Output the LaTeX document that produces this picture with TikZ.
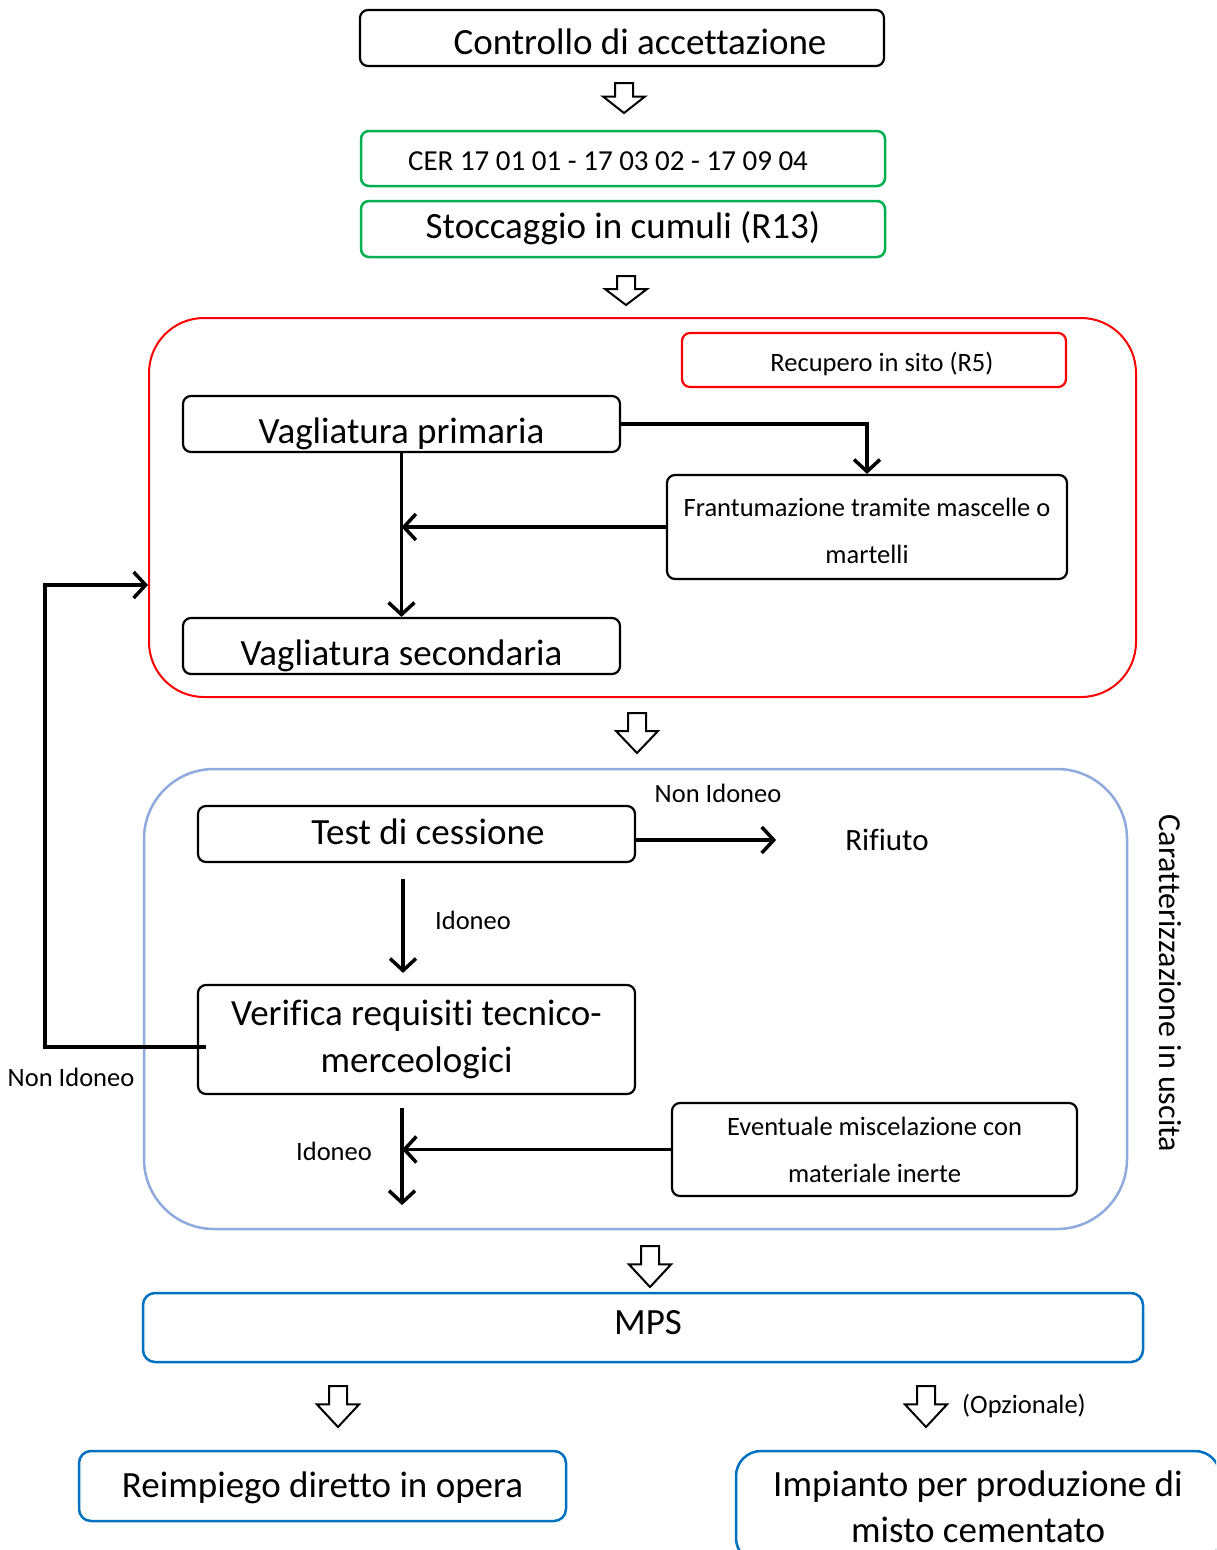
\documentclass[tikz,border=0pt]{standalone}
\usepackage{fontspec}
\setmainfont{Carlito}[Ligatures=CommonOff]
\usepackage{xcolor}
\usepackage{tikz}
\usetikzlibrary{positioning,calc,arrows.meta}

\definecolor{boxgreen}{RGB}{0,176,80}
\definecolor{boxred}{RGB}{255,0,0}
\definecolor{lightblue}{RGB}{143,170,220}
\definecolor{mpsblue}{RGB}{0,112,192}

\newcommand{\bigtxt}{\fontsize{37}{47}\selectfont}
\newcommand{\smalltxt}{\fontsize{26.5}{47}\selectfont}
% hollow block arrow: x, top, tip
\newcommand{\hollowarrow}[3]{%
  \draw[line width=2pt,fill=white] ({#1-9},#2) -- ({#1+9},#2) -- ({#1+9},{#3-0.55*(#3-#2)}) -- ({#1+21},{#3-0.55*(#3-#2)}) -- (#1,#3) -- ({#1-21},{#3-0.55*(#3-#2)}) -- ({#1-9},{#3-0.55*(#3-#2)}) -- cycle;}

\begin{document}
\begin{tikzpicture}[x=1pt,y=-1pt,
    box/.style={draw,rounded corners=8pt,line width=2.2pt,inner sep=0pt,align=center},
    big/.style={font=\bigtxt,text height=32pt,text depth=0pt},
    conn/.style={line width=3.5pt,-{Straight Barb[length=12pt,width=26pt]}},
    lbl/.style={font=\smalltxt,inner sep=0pt}]
    \useasboundingbox (0,0) rectangle (1216,1550);
    \clip (0,0) rectangle (1216,1550);

    % Ingresso
    \node[box,big,minimum width=524,minimum height=56] (ctrl) at (622,38) {\hspace*{36pt}Controllo di accettazione};
    \node[box,draw=boxgreen,line width=2.5pt,minimum width=524,minimum height=55,font=\fontsize{29}{35}\selectfont,text height=23pt,text depth=0pt] (cer) at (623,158.5) {CER 17 01 01 - 17 03 02 - 17 09 04\hspace*{30pt}};
    \node[box,big,draw=boxgreen,line width=2.5pt,minimum width=524,minimum height=56,text height=18pt] (sto) at (623,229) {Stoccaggio in cumuli (R13)};

    % Recupero in sito
    \node[draw=boxred,line width=2pt,rounded corners=55pt,minimum width=987,minimum height=379] (rec) at (642.5,507.5) {};
    \node[box,draw=boxred,minimum width=384,minimum height=54,font=\fontsize{26.5}{32}\selectfont,text height=23pt,text depth=0pt] (r5) at (874,360) {\hspace*{16pt}Recupero in sito (R5)};
    \node[box,big,minimum width=437,minimum height=56,text height=38pt] (vp) at (401.5,424) {Vagliatura primaria};
    \node[box,minimum width=400,minimum height=104,font=\smalltxt,text height=74pt] (fr) at (867,527) {Frantumazione tramite mascelle o\\martelli};
    \node[box,big,minimum width=437,minimum height=56,text height=38pt] (vs) at (401.5,646) {Vagliatura secondaria};

    \draw[conn] (vp.east) -| (fr.north);
    \draw[conn] (fr.west) -- (fr.west -| vp.south);
    \draw[conn] (vp.south) -- (vs.north);

    % Caratterizzazione in uscita
    \node[draw=lightblue,line width=2.5pt,rounded corners=70pt,minimum width=983,minimum height=460] (car) at (635.5,999) {};
    \node[font=\fontsize{32}{38}\selectfont,rotate=-90] (carlbl) at (1170,983.5) {Caratterizzazione in uscita};
    \node[box,big,minimum width=437,minimum height=56,text height=20pt] (test) at (416.5,834) {\hspace*{23pt}Test di cessione};
    \node[font=\fontsize{31}{37}\selectfont] (rif) at (887,840) {Rifiuto};
    \node[lbl] (noid1) at (718,793) {Non Idoneo};
    \node[box,font=\bigtxt,minimum width=437,minimum height=109] (ver) at (416.5,1039.5) {Verifica requisiti tecnico-\\merceologici};
    \node[box,minimum width=405,minimum height=93,font=\smalltxt] (ev) at (874.5,1149.5) {Eventuale miscelazione con\\materiale inerte};

    \draw[conn] (test.east |- rif) -- ++(140,0);
    \draw[conn] ([xshift=-13.5pt,yshift=-16pt]test.south) -- ([xshift=-13.5pt,yshift=11pt]ver.north);
    \node[lbl] (id1) at (473,920) {Idoneo};

    % ritorno al vaglio
    \draw[conn] ([xshift=9pt,yshift=-7.5pt]ver.west) -- ++(-161,0) |- ([yshift=-77.5pt]rec.west);
    \node[lbl] (noid2) at (71,1077) {Non Idoneo};

    \coordinate (idtop) at ([xshift=-14.5pt,yshift=-13pt]ver.south);
    \draw[conn] (idtop) -- ++(0,97);
    \draw[conn] (ev.west) -- (ev.west -| idtop);
    \node[lbl] (id2) at (334,1151) {Idoneo};

    % MPS
    \node[box,big,draw=mpsblue,line width=2.5pt,rounded corners=12pt,minimum width=1000,minimum height=69,text height=13pt] (mps) at (643,1327.5) {\hspace*{10pt}MPS};
    \node[box,big,draw=mpsblue,line width=2.5pt,rounded corners=12pt,minimum width=487,minimum height=70,text height=22pt] (reim) at (322.5,1486) {Reimpiego diretto in opera};
    \node[box,font=\fontsize{37}{46}\selectfont,draw=mpsblue,line width=2.5pt,rounded corners=25pt,minimum width=484,minimum height=112] (imp) at (978,1507) {Impianto per produzione di\\misto cementato};
    \node[lbl] (opz) at (1024,1406) {(Opzionale)};

    % frecce a blocco
    \hollowarrow{624}{83}{113}
    \hollowarrow{626}{276}{305}
    \hollowarrow{637}{713}{753}
    \hollowarrow{650}{1246}{1287}
    \hollowarrow{338}{1386}{1427}
    \hollowarrow{926}{1386}{1427}
\end{tikzpicture}
\end{document}
